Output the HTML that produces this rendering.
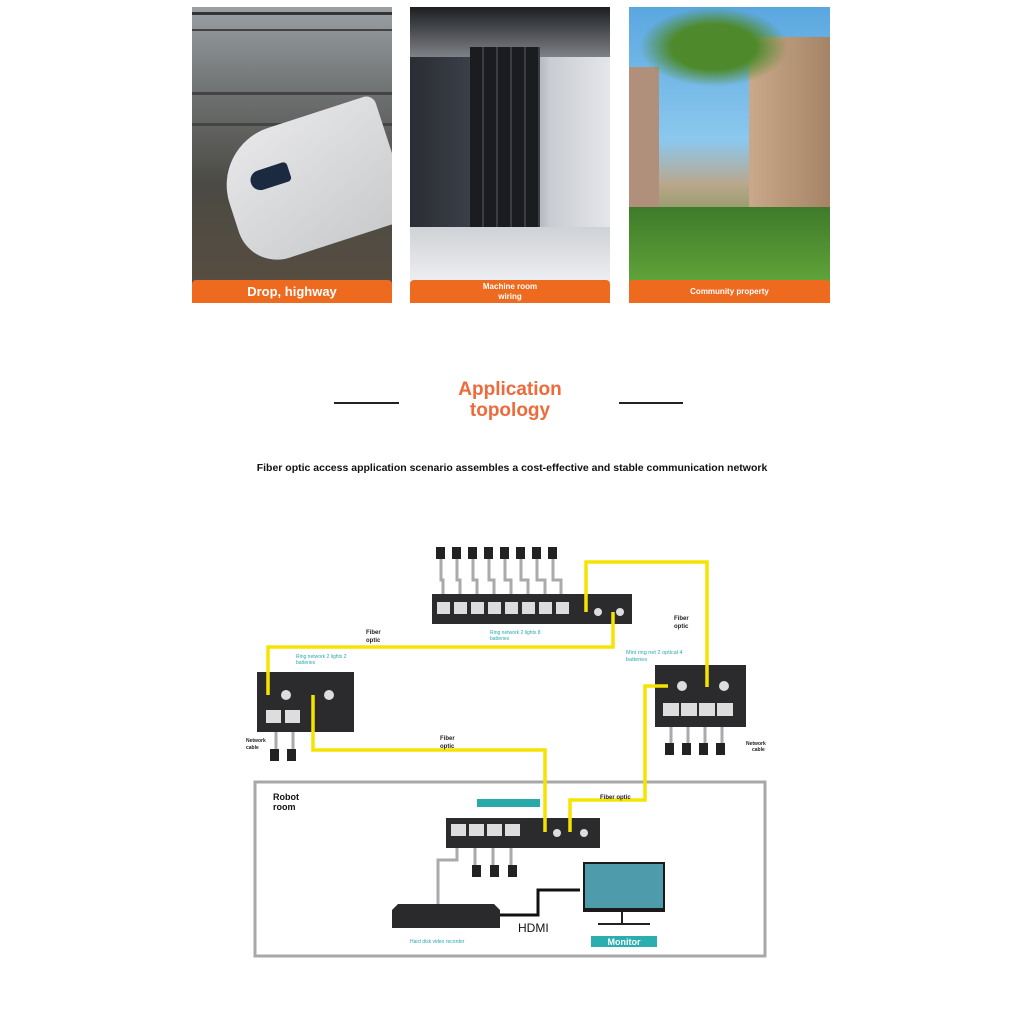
<!DOCTYPE html>
<html><head><meta charset="utf-8"><style>
body{margin:0;width:1024px;height:1024px;background:#fff;position:relative;overflow:hidden;font-family:"Liberation Sans",sans-serif}
.ph{position:absolute;top:7px;height:296px;overflow:hidden}
.bar{position:absolute;left:0;right:0;bottom:0;height:23px;background:#ee6a1f;color:#fff;font-weight:bold;text-align:center;border-radius:4px 4px 0 0}
.t{position:absolute;font-family:"Liberation Sans",sans-serif}
</style></head><body>
<div class="ph" style="left:192px;width:200px;background:linear-gradient(180deg,#9aa0a4 0%,#6d7070 30%,#4b4a44 60%,#5a4e40 100%)">
 <div style="position:absolute;left:0;top:5px;width:200px;height:14px;border-top:3px solid #333;border-bottom:2px solid #444"></div>
 <div style="position:absolute;left:0;top:85px;width:200px;height:28px;border-top:3px solid #444;border-bottom:3px solid #444"></div>
 <div style="position:absolute;left:35px;top:110px;width:170px;height:130px;background:linear-gradient(160deg,#e8e8ea,#c8cacc);border-radius:60px 10px 10px 40px;transform:rotate(-18deg)"></div>
 <div style="position:absolute;left:58px;top:160px;width:40px;height:20px;background:#1b2a40;border-radius:10px 4px 4px 10px;transform:rotate(-18deg)"></div>
 <div class="bar" style="font-size:13px;line-height:23px">Drop, highway</div></div>
<div class="ph" style="left:410px;width:200px;background:linear-gradient(90deg,#2a2d33 0%,#3b3f48 30%,#7d838c 50%,#c9ccd2 70%,#e4e6ea 100%)">
 <div style="position:absolute;left:0;top:0;width:200px;height:50px;background:linear-gradient(180deg,#1c1e22,#7e8186)"></div>
 <div style="position:absolute;left:60px;top:40px;width:70px;height:200px;background:repeating-linear-gradient(90deg,#1a1c20 0 12px,#3a3d44 12px 14px)"></div>
 <div style="position:absolute;left:0;top:220px;width:200px;height:60px;background:linear-gradient(180deg,#cfd2d6,#f0f1f3)"></div>
 <div class="bar" style="font-size:8px;line-height:10px;padding-top:2px;height:21px">Machine room<br>wiring</div></div>
<div class="ph" style="left:629px;width:201px;background:linear-gradient(180deg,#5aa7e0 0%,#8cc8ee 45%,#b9a78c 60%,#6a8f40 80%,#4f8a30 100%)">
 <div style="position:absolute;left:120px;top:30px;width:81px;height:200px;background:linear-gradient(90deg,#c9a98a,#a68366);"></div>
 <div style="position:absolute;left:0;top:60px;width:30px;height:180px;background:#b0907a"></div>
 <div style="position:absolute;left:10px;top:0;width:150px;height:80px;background:radial-gradient(ellipse,#4e8a2c 0%,#4e8a2c 40%,transparent 70%)"></div>
 <div style="position:absolute;left:0;top:200px;width:201px;height:80px;background:linear-gradient(180deg,#3f7a2a,#62a63a)"></div>
 <div class="bar" style="font-size:8px;line-height:23px">Community property</div></div>

<div style="position:absolute;left:334px;top:402px;width:65px;height:2px;background:#222"></div>
<div style="position:absolute;left:619px;top:402px;width:64px;height:2px;background:#222"></div>
<div class="t" style="left:420px;top:379px;width:180px;text-align:center;color:#ee6a3a;font-weight:bold;font-size:19px;line-height:21px">Application<br>topology</div>
<div class="t" style="left:200px;top:462px;width:624px;text-align:center;font-weight:bold;font-size:10.5px;color:#111">Fiber optic access application scenario assembles a cost-effective and stable communication network</div>

<svg width="1024" height="1024" style="position:absolute;left:0;top:0" font-family="Liberation Sans">
<rect x="255" y="782" width="510" height="174" fill="none" stroke="#a8a8a8" stroke-width="3"/>
<!-- gray cables top -->
<g stroke="#aaa" stroke-width="3" fill="none">
<path d="M441 558 V580 H443 V605"/><path d="M457 558 V580 H460 V605"/><path d="M473 558 V580 H477 V605"/><path d="M489 558 V580 H494 V605"/><path d="M505 558 V580 H511 V605"/><path d="M521 558 V580 H528 V605"/><path d="M537 558 V580 H545 V605"/><path d="M553 558 V580 H561 V605"/>
<path d="M276 720 V750"/><path d="M293 720 V750"/>
<path d="M671 712 V745"/><path d="M688 712 V745"/><path d="M705 712 V745"/><path d="M722 712 V745"/>
<path d="M457 835 V860 H438 V905"/><path d="M475 835 V865"/><path d="M493 835 V865"/><path d="M511 835 V865"/>
</g>
<path d="M500 915 H538 V890 H580" stroke="#111" stroke-width="3" fill="none"/>
<!-- switches -->
<rect x="432" y="594" width="200" height="30" fill="#2b2b2d"/>
<rect x="655" y="665" width="91" height="62" fill="#2b2b2d"/>
<rect x="257" y="672" width="97" height="60" fill="#2b2b2d"/>
<rect x="446" y="818" width="154" height="30" fill="#2b2b2d"/>
<g fill="#ddd"><rect x="437" y="602" width="13" height="12"/><rect x="454" y="602" width="13" height="12"/><rect x="471" y="602" width="13" height="12"/><rect x="488" y="602" width="13" height="12"/><rect x="505" y="602" width="13" height="12"/><rect x="522" y="602" width="13" height="12"/><rect x="539" y="602" width="13" height="12"/><rect x="556" y="602" width="13" height="12"/>
<rect x="266" y="710" width="15" height="13"/><rect x="285" y="710" width="15" height="13"/>
<rect x="663" y="703" width="16" height="13"/><rect x="681" y="703" width="16" height="13"/><rect x="699" y="703" width="16" height="13"/><rect x="717" y="703" width="16" height="13"/>
<rect x="451" y="824" width="15" height="12"/><rect x="469" y="824" width="15" height="12"/><rect x="487" y="824" width="15" height="12"/><rect x="505" y="824" width="15" height="12"/>
<circle cx="286" cy="695" r="5"/><circle cx="329" cy="695" r="5"/><circle cx="682" cy="686" r="5"/><circle cx="724" cy="686" r="5"/><circle cx="598" cy="612" r="4"/><circle cx="620" cy="612" r="4"/><circle cx="557" cy="833" r="4"/><circle cx="584" cy="833" r="4"/></g>
<rect x="477" y="799" width="63" height="8" fill="#2aa9a9"/>
<!-- NVR -->
<path d="M398 904 H494 L500 910 V928 H392 V910 Z" fill="#2a2a2c"/>
<!-- monitor -->
<rect x="583" y="862" width="82" height="50" fill="#1a1a1a"/><rect x="585" y="864" width="78" height="44" fill="#4d9bab"/>
<path d="M622 912 V923 M598 924 H650" stroke="#222" stroke-width="2"/>
<rect x="591" y="936" width="66" height="11" fill="#2aaeb0"/>
<text x="624" y="945" font-size="9" font-weight="bold" fill="#fff" text-anchor="middle">Monitor</text>
<!-- cameras -->
<g fill="#222">
<rect x="436" y="547" width="9" height="12"/><rect x="452" y="547" width="9" height="12"/><rect x="468" y="547" width="9" height="12"/><rect x="484" y="547" width="9" height="12"/><rect x="500" y="547" width="9" height="12"/><rect x="516" y="547" width="9" height="12"/><rect x="532" y="547" width="9" height="12"/><rect x="548" y="547" width="9" height="12"/>
<rect x="270" y="749" width="9" height="12"/><rect x="287" y="749" width="9" height="12"/>
<rect x="665" y="743" width="9" height="12"/><rect x="682" y="743" width="9" height="12"/><rect x="699" y="743" width="9" height="12"/><rect x="716" y="743" width="9" height="12"/>
<rect x="472" y="865" width="9" height="12"/><rect x="490" y="865" width="9" height="12"/><rect x="508" y="865" width="9" height="12"/>
</g>
<!-- fiber -->
<g stroke="#f5e400" stroke-width="3.5" fill="none">
<path d="M586 612 V562 H707 V687"/>
<path d="M613 612 V647 H268 V695"/>
<path d="M313 695 V750 H545 V832"/>
<path d="M668 686 H645 V800 H570 V832"/>
</g>
<g font-size="6" font-weight="bold" fill="#222">
<text x="366" y="634">Fiber</text><text x="366" y="642">optic</text>
<text x="674" y="620">Fiber</text><text x="674" y="628">optic</text>
<text x="440" y="740">Fiber</text><text x="440" y="748">optic</text>
<text x="600" y="799">Fiber optic</text>
<text x="246" y="742" font-size="5">Network</text><text x="246" y="749" font-size="5">cable</text>
<text x="746" y="745" font-size="5">Network</text><text x="752" y="751" font-size="5">cable</text>
</g>
<g font-size="5" fill="#2aa9b0">
<text x="490" y="634">Ring network 2 lights 8</text><text x="490" y="640">batteries</text>
<text x="296" y="658">Ring network 2 lights 2</text><text x="296" y="664">batteries</text>
<text x="626" y="654" font-size="5.5">Mini ring net 2 optical 4</text><text x="626" y="661" font-size="5.5">batteries</text>
<text x="410" y="943">Hard disk video recorder</text>
</g>
<text x="273" y="800" font-size="9" font-weight="bold" fill="#111">Robot</text>
<text x="273" y="810" font-size="9" font-weight="bold" fill="#111">room</text>
<text x="518" y="932" font-size="12" fill="#111">HDMI</text>
</svg>
</body></html>
